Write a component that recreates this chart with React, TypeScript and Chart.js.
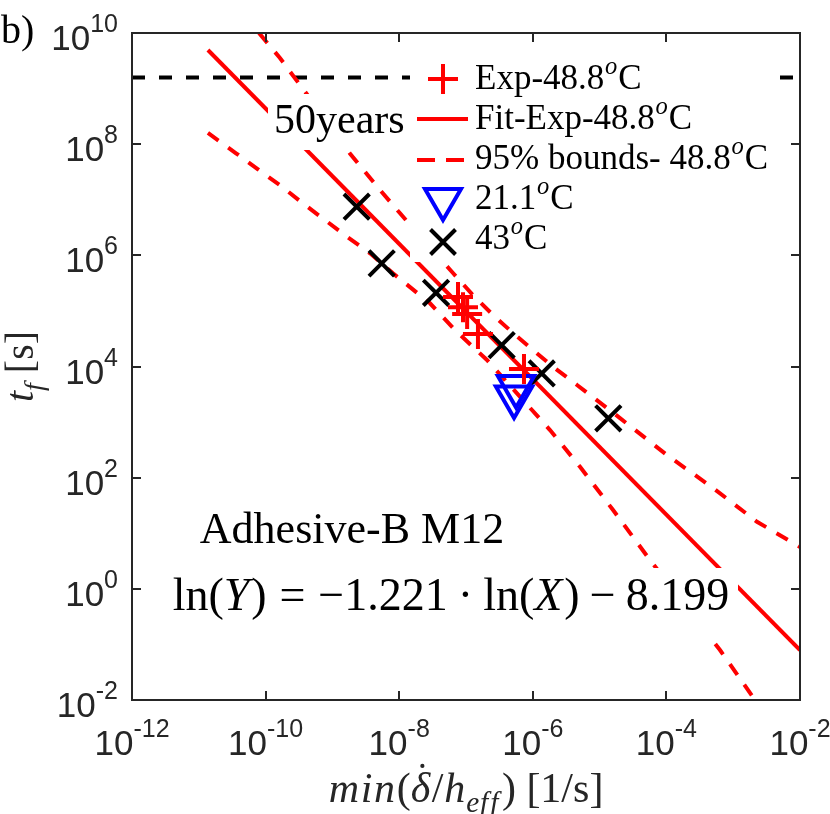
import { useEffect, useRef } from 'react';
import { Chart, registerables } from 'chart.js';

Chart.register(...registerables);

// tick exponents (log10)
const xTickExps = [-12, -10, -8, -6, -4, -2];
const yTickExps = [10, 8, 6, 4, 2, 0, -2];

// Exp-48.8 oC
const exp488X = [7.59e-8, 9.02e-8, 1.04e-7, 1.51e-7, 7.38e-7];
const exp488Y = [1.78e5, 1.17e5, 8.8e4, 3.84e4, 9.0e3];

// 21.1 oC
const t211X = [5.61e-7, 5.24e-7];
const t211Y = [4.36e3, 2.82e3];

// 43 oC
const t43X = [2.31e-9, 5.47e-9, 3.56e-8, 3.42e-7, 1.36e-6, 1.35e-5];
const t43Y = [7.5e6, 7.18e5, 2.12e5, 2.43e4, 7.5e3, 1.17e3];

// Fit-Exp-48.8 oC
const fitX = [1.37e-11, 1e-2];
const fitY = [4.94e9, 0.0793];

// 95% bounds
const upperX = [7.96e-11, 1.64e-10, 3.63e-10, 8.3e-10, 1.83e-9, 5.16e-9, 1.03e-8, 2.43e-8, 6.38e-8, 1.23e-7,
    2.54e-7, 5.06e-7, 1.01e-6, 2.0e-6, 4.59e-6, 2.02e-5, 1.02e-4, 4.99e-4, 2.27e-3, 1e-2];
const upperY = [1e10, 3.55e9, 9.82e8, 2.61e8, 6.79e7, 1.5e7, 5.7e6, 1.74e6, 4.81e5, 2.01e5,
    8.43e4, 4.0e4, 1.98e4, 9.9e3, 4.65e3, 1.18e3, 255, 65.2, 16.1, 5.65];
const lowerX = [1.37e-11, 3.61e-11, 7.69e-11, 1.7e-10, 3.51e-10, 7.48e-10, 1.66e-9, 3.66e-9, 8.07e-9, 2.89e-8,
    6.84e-8, 2.06e-7, 7.13e-7, 1.81e-6, 5.09e-6, 1.59e-5, 5.68e-5, 6.34e-4, 2.12e-3];
const lowerY = [1.59e8, 6.86e7, 3.53e7, 1.77e7, 8.85e6, 4.45e6, 2.16e6, 1.09e6, 4.75e5, 1.37e5,
    4.53e4, 1.31e4, 2.49e3, 719, 157, 26.2, 3.3, 0.0793, 0.01];

// 50 years [s]
const yearsX = [1e-12, 1e-2];
const yearsY = [1.5768e9, 1.5768e9];

const SERIF = '"Liberation Serif", "Times New Roman", serif';
const SANS = '"Liberation Sans", Arial, sans-serif';
const AXIS = '#262626';
const RED = '#ff0000';
const BLUE = '#0000ff';

type Run = { t: string; it?: boolean; sc?: 'sub' | 'sup'; dot?: boolean; gap?: number };

const pts = (xs: number[], ys: number[]) => xs.map((x, i) => ({ x, y: ys[i] }));

function runFont(r: Run, size: number) {
    const s = r.sc ? size * 0.7 : size;
    return `${r.it ? 'italic ' : ''}${s}px ${SERIF}`;
}

function measureRuns(ctx: CanvasRenderingContext2D, runs: Run[], size: number) {
    let w = 0;
    for (const r of runs) {
        ctx.font = runFont(r, size);
        w += ctx.measureText(r.t).width + (r.gap ?? 0) * size;
    }
    return w;
}

function drawRuns(ctx: CanvasRenderingContext2D, runs: Run[], x: number, y: number, size: number, center = false) {
    let cx = center ? x - measureRuns(ctx, runs, size) / 2 : x;
    ctx.textAlign = 'left';
    ctx.textBaseline = 'alphabetic';
    for (const r of runs) {
        ctx.font = runFont(r, size);
        const dy = r.sc === 'sub' ? size * 0.24 : r.sc === 'sup' ? -size * 0.42 : 0;
        const w = ctx.measureText(r.t).width;
        ctx.fillText(r.t, cx, y + dy);
        if (r.dot) {
            ctx.beginPath();
            ctx.arc(cx + w * 0.6, y - size * 0.86, size * 0.05, 0, Math.PI * 2);
            ctx.fill();
        }
        cx += w + (r.gap ?? 0) * size;
    }
}

function legendLabel(prefix: string): Run[] {
    return [{ t: prefix, gap: 0.02 }, { t: 'o', it: true, sc: 'sup', gap: 0.03 }, { t: 'C' }];
}

const decorPlugin = {
    id: 'decor',
    afterDraw(chart: Chart) {
        const { ctx, chartArea: a } = chart;
        const xs = chart.scales.x;
        const ys = chart.scales.y;
        ctx.save();

        // white boxes behind text (lines hidden like MATLAB)
        ctx.fillStyle = '#ffffff';
        ctx.fillRect(410, 44, 368, 218);
        ctx.fillRect(268, 94, 140, 56);
        ctx.fillRect(160, 568, 578, 72);

        ctx.fillStyle = '#000000';
        drawRuns(ctx, [{ t: '50years' }], 274, 133, 42);
        drawRuns(ctx, [{ t: 'Adhesive-B M12' }], 352, 543, 44, true);
        drawRuns(ctx, [
            { t: 'ln(' }, { t: 'Y', it: true, gap: 0.04 }, { t: ')', gap: 0.28 }, { t: '=', gap: 0.28 },
            { t: '\u22121.221', gap: 0.22 }, { t: '\u00b7', gap: 0.22 }, { t: 'ln(' }, { t: 'X', it: true, gap: 0.04 },
            { t: ')', gap: 0.22 }, { t: '\u2212', gap: 0.22 }, { t: '8.199' },
        ], 451, 610, 46, true);

        // legend
        const lx = 443;
        const tx = 475;
        const rows = [89, 129, 169, 209, 249];
        const labels = ['Exp-48.8', 'Fit-Exp-48.8', '95% bounds- 48.8', '21.1', '43'];
        rows.forEach((b, i) => {
            ctx.fillStyle = '#000000';
            drawRuns(ctx, legendLabel(labels[i]), tx, b, 35);
        });
        ctx.lineWidth = 4;
        // plus
        ctx.strokeStyle = RED;
        ctx.beginPath();
        ctx.moveTo(lx - 15, rows[0] - 10); ctx.lineTo(lx + 15, rows[0] - 10);
        ctx.moveTo(lx, rows[0] - 25); ctx.lineTo(lx, rows[0] + 5);
        ctx.stroke();
        // solid line
        ctx.beginPath();
        ctx.moveTo(417, rows[1] - 10); ctx.lineTo(468, rows[1] - 10);
        ctx.stroke();
        // dashed line
        ctx.setLineDash([18, 11]);
        ctx.beginPath();
        ctx.moveTo(417, rows[2] - 9); ctx.lineTo(468, rows[2] - 9);
        ctx.stroke();
        ctx.setLineDash([]);
        // triangle
        ctx.strokeStyle = BLUE;
        const ty = rows[3] - 10;
        ctx.beginPath();
        ctx.moveTo(lx - 18, ty - 10); ctx.lineTo(lx + 18, ty - 10); ctx.lineTo(lx, ty + 21);
        ctx.closePath();
        ctx.stroke();
        // x
        ctx.strokeStyle = '#000000';
        const xy = rows[4] - 7;
        ctx.beginPath();
        ctx.moveTo(lx - 12.5, xy - 12.5); ctx.lineTo(lx + 12.5, xy + 12.5);
        ctx.moveTo(lx + 12.5, xy - 12.5); ctx.lineTo(lx - 12.5, xy + 12.5);
        ctx.stroke();

        // axes box and inward ticks
        ctx.strokeStyle = AXIS;
        ctx.lineWidth = 2;
        ctx.strokeRect(a.left, a.top, a.right - a.left, a.bottom - a.top);
        ctx.beginPath();
        for (const e of xTickExps) {
            const px = Math.round(xs.getPixelForValue(10 ** e));
            ctx.moveTo(px, a.bottom); ctx.lineTo(px, a.bottom - 9);
            ctx.moveTo(px, a.top); ctx.lineTo(px, a.top + 9);
        }
        for (const e of yTickExps) {
            const py = Math.round(ys.getPixelForValue(10 ** e));
            ctx.moveTo(a.left, py); ctx.lineTo(a.left + 9, py);
            ctx.moveTo(a.right, py); ctx.lineTo(a.right - 9, py);
        }
        ctx.stroke();

        // tick labels 10^n
        ctx.fillStyle = AXIS;
        ctx.textBaseline = 'alphabetic';
        ctx.textAlign = 'left';
        const base = `35px ${SANS}`;
        const sup = `25px ${SANS}`;
        for (const e of xTickExps) {
            const px = xs.getPixelForValue(10 ** e);
            ctx.font = base;
            const w1 = ctx.measureText('10').width;
            ctx.font = sup;
            const w2 = ctx.measureText(String(e)).width;
            const x0 = px - (w1 + w2) / 2;
            ctx.font = base;
            ctx.fillText('10', x0, a.bottom + 55);
            ctx.font = sup;
            ctx.fillText(String(e), x0 + w1, a.bottom + 37);
        }
        for (const e of yTickExps) {
            const py = ys.getPixelForValue(10 ** e);
            ctx.font = sup;
            const w2 = ctx.measureText(String(e)).width;
            ctx.font = base;
            const w1 = ctx.measureText('10').width;
            const x0 = a.left - 14 - w1 - w2;
            ctx.fillText('10', x0, py + 17);
            ctx.font = sup;
            ctx.fillText(String(e), x0 + w1, py - 1);
        }

        // axis titles
        ctx.fillStyle = AXIS;
        drawRuns(ctx, [
            { t: 'm', it: true, gap: 0.04 }, { t: 'i', it: true, gap: 0.04 }, { t: 'n', it: true, gap: 0.04 },
            { t: '(' }, { t: '\u03b4', it: true, dot: true, gap: 0.04 }, { t: '/', gap: 0.02 },
            { t: 'h', it: true, gap: 0.02 }, { t: 'e', it: true, sc: 'sub', gap: 0.02 }, { t: 'f', it: true, sc: 'sub', gap: 0.05 },
            { t: 'f', it: true, sc: 'sub', gap: 0.08 }, { t: ')' }, { t: ' [1/s]' },
        ], (a.left + a.right) / 2, 802, 42, true);
        ctx.save();
        ctx.translate(33, (a.top + a.bottom) / 2);
        ctx.rotate(-Math.PI / 2);
        drawRuns(ctx, [{ t: 't', it: true }, { t: 'f', it: true, sc: 'sub', gap: 0.25 }, { t: '[s]' }], 0, 0, 40, true);
        ctx.restore();

        // panel label
        ctx.fillStyle = '#000000';
        drawRuns(ctx, [{ t: 'b)' }], 1, 43, 40);

        ctx.restore();
    },
};

export default function App() {
    const canvasRef = useRef<HTMLCanvasElement>(null);
    const chartRef = useRef<Chart | null>(null);

    useEffect(() => {
        document.body.style.margin = '0';
        if (!canvasRef.current) return;
        if (chartRef.current) chartRef.current.destroy();
        const ctx = canvasRef.current.getContext('2d');
        if (!ctx) return;

        chartRef.current = new Chart(ctx, {
            type: 'scatter',
            data: {
                datasets: [
                    {
                        data: pts(yearsX, yearsY),
                        showLine: true,
                        borderColor: '#000000',
                        borderWidth: 4,
                        borderDash: [13, 14],
                        pointRadius: 0,
                        order: 6,
                    },
                    {
                        data: pts(upperX, upperY),
                        showLine: true,
                        borderColor: RED,
                        borderWidth: 4,
                        borderDash: [13, 12],
                        pointRadius: 0,
                        order: 5,
                    },
                    {
                        data: pts(lowerX, lowerY),
                        showLine: true,
                        borderColor: RED,
                        borderWidth: 4,
                        borderDash: [13, 12],
                        pointRadius: 0,
                        order: 5,
                    },
                    {
                        data: pts(fitX, fitY),
                        showLine: true,
                        borderColor: RED,
                        borderWidth: 4,
                        pointRadius: 0,
                        order: 4,
                    },
                    {
                        data: pts(t43X, t43Y),
                        pointStyle: 'crossRot',
                        pointRadius: 18,
                        borderWidth: 4,
                        borderColor: '#000000',
                        backgroundColor: 'transparent',
                        order: 3,
                    },
                    {
                        data: pts(t211X, t211Y),
                        pointStyle: 'triangle',
                        rotation: 180,
                        pointRadius: 21,
                        borderWidth: 4,
                        borderColor: BLUE,
                        backgroundColor: 'transparent',
                        order: 2,
                    },
                    {
                        data: pts(exp488X, exp488Y),
                        pointStyle: 'cross',
                        pointRadius: 15,
                        borderWidth: 4,
                        borderColor: RED,
                        backgroundColor: 'transparent',
                        order: 1,
                    },
                ],
            },
            options: {
                responsive: false,
                animation: false,
                events: [],
                layout: { padding: { top: 33, right: 30, left: 0, bottom: 0 } },
                plugins: { legend: { display: false }, tooltip: { enabled: false } },
                scales: {
                    x: {
                        type: 'logarithmic',
                        min: 1e-12,
                        max: 1e-2,
                        ticks: { display: false },
                        grid: { display: false },
                        border: { display: false },
                        afterFit: (s: any) => { s.height = 114; },
                    },
                    y: {
                        type: 'logarithmic',
                        min: 1e-2,
                        max: 1e10,
                        ticks: { display: false },
                        grid: { display: false },
                        border: { display: false },
                        afterFit: (s: any) => { s.width = 132; },
                    },
                },
            },
            plugins: [decorPlugin],
        });

        return () => {
            if (chartRef.current) {
                chartRef.current.destroy();
                chartRef.current = null;
            }
        };
    }, []);

    return (
        <canvas
            ref={canvasRef}
            width={830}
            height={814}
            style={{ display: 'block', width: '830px', height: '814px' }}
        />
    );
}
